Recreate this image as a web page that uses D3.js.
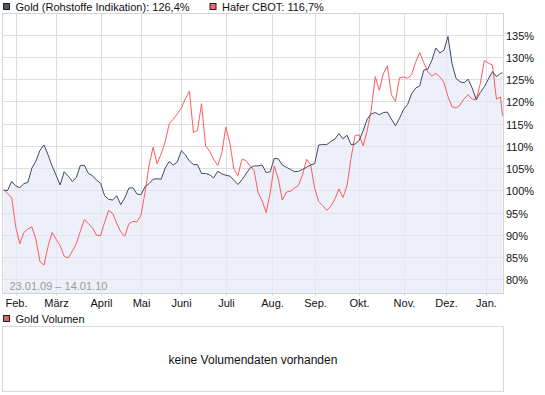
<!DOCTYPE html>
<html>
<head>
<meta charset="utf-8">
<script src="https://cdn.jsdelivr.net/npm/d3@7"></script>
<style>
  body { margin: 0; background: #fff; }
  svg { display: block; font-family: "Liberation Sans", Arial, sans-serif; }
</style>
</head>
<body>
<div id="chart"></div>
<script>
// trading calendar
const startDate = '2009-01-23';
const endDate = '2010-01-14';
const holidays = ['2009-04-10', '2009-04-13', '2009-05-01', '2009-12-24', '2009-12-25', '2009-12-31', '2010-01-01'];

// month ticks
const monthStarts = ['2009-02-01', '2009-03-01', '2009-04-01', '2009-05-01', '2009-06-01', '2009-07-01',
  '2009-08-01', '2009-09-01', '2009-10-01', '2009-11-01', '2009-12-01', '2010-01-01'];
const monthLabels = ['Feb.', 'März', 'April', 'Mai', 'Juni', 'Juli', 'Aug.', 'Sep.', 'Okt.', 'Nov.', 'Dez.', 'Jan.'];
const yTicks = [80, 85, 90, 95, 100, 105, 110, 115, 120, 125, 130, 135];

// values in %, every second trading day plus the last one
const goldValues = [100.0, 100.0, 102.0, 101.0, 100.6, 101.5, 101.8, 105.0, 106.6, 109.0, 110.2, 108.0,
  105.5, 103.4, 101.2, 104.2, 103.2, 102.0, 102.9, 105.6, 105.6, 103.8, 103.3, 102.3,
  101.6, 98.8, 98.0, 97.8, 98.8, 96.8, 98.3, 100.5, 100.6, 99.2, 99.0, 100.8,
  101.5, 102.5, 102.6, 102.5, 105.0, 106.5, 105.7, 106.4, 108.9, 108.0, 106.6, 105.8,
  105.8, 103.8, 103.8, 103.5, 102.8, 104.3, 103.7, 103.4, 103.2, 102.3, 101.3, 102.4,
  103.7, 105.0, 105.5, 105.5, 105.7, 104.0, 104.2, 107.2, 107.1, 105.7, 105.2, 104.7,
  104.2, 104.3, 104.7, 105.2, 105.7, 106.0, 110.2, 110.3, 110.3, 111.0, 111.5, 112.8,
  111.6, 112.4, 110.3, 110.4, 111.2, 113.4, 116.0, 117.2, 117.5, 117.0, 117.5, 117.6,
  116.0, 114.5, 116.2, 118.2, 119.3, 121.7, 123.0, 123.5, 127.0, 127.3, 129.2, 132.0,
  130.9, 131.5, 134.6, 128.5, 125.2, 124.4, 124.2, 125.0, 123.0, 120.4, 122.0, 123.3,
  125.0, 126.7, 125.6, 126.3, 126.4];
const haferValues = [100.2, 99.3, 98.3, 91.8, 88.0, 90.5, 91.3, 91.8, 89.0, 84.0, 83.2, 87.4,
  90.5, 89.0, 87.5, 85.2, 84.8, 86.3, 88.0, 90.8, 93.5, 92.5, 91.6, 89.9,
  89.8, 92.8, 95.5, 94.8, 92.6, 90.6, 89.7, 92.5, 93.0, 92.9, 94.4, 99.5,
  105.5, 109.7, 106.0, 108.2, 110.9, 115.0, 116.0, 117.2, 118.5, 120.6, 122.3, 113.0,
  113.5, 119.5, 110.0, 108.8, 107.0, 105.6, 108.3, 114.2, 110.7, 104.8, 103.3, 107.0,
  106.7, 105.5, 104.5, 99.5, 97.6, 95.0, 99.5, 105.5, 102.6, 97.8, 99.6, 99.8,
  100.5, 101.1, 103.5, 107.0, 105.8, 100.5, 97.5, 96.6, 95.5, 96.4, 98.0, 100.3,
  98.4, 101.0, 107.2, 112.3, 112.5, 110.0, 113.4, 118.0, 125.6, 122.5, 126.2, 128.0,
  121.5, 120.0, 125.3, 125.5, 125.2, 126.0, 128.8, 131.0, 128.7, 126.7, 125.7, 126.3,
  125.5, 124.3, 121.1, 118.8, 118.5, 119.2, 120.6, 121.5, 120.5, 120.4, 124.0, 129.2,
  128.6, 128.2, 120.5, 121.0, 116.7];

const W = 545, H = 395;
const plot = { left: 3, right: 503, top: 13, bottom: 293 };

const parse = d3.utcParse('%Y-%m-%d');
const fmt = d3.utcFormat('%Y-%m-%d');
const tradingDays = d3.utcDay.range(parse(startDate), d3.utcDay.offset(parse(endDate), 1))
  .filter(d => d.getUTCDay() !== 0 && d.getUTCDay() !== 6 && !holidays.includes(fmt(d)));
const dayIndex = date => d3.bisectLeft(tradingDays, date);

const sampleDays = tradingDays.filter((d, i) => i % 2 === 0 || i === tradingDays.length - 1);
const gold = sampleDays.map((d, i) => ({ date: d, value: goldValues[i] }));
const hafer = sampleDays.map((d, i) => ({ date: d, value: haferValues[i] }));

const x = d3.scaleLinear().domain([0, tradingDays.length - 1]).range([3.6, 502.5]);
const y = d3.scaleLinear().domain([80, 135]).range([279.3, 34.7]);

const svg = d3.select('#chart').append('svg').attr('width', W).attr('height', H);

// top legend
const legend = [
  { label: 'Gold (Rohstoffe Indikation): 126,4%', color: '#4b5673', x: 3 },
  { label: 'Hafer CBOT: 116,7%', color: '#ff6262', x: 209.5 }
];
legend.forEach(l => {
  svg.append('rect').attr('x', l.x + 0.5).attr('y', 3.5).attr('width', 6).attr('height', 6)
    .attr('fill', l.color).attr('stroke', '#222');
  svg.append('text').attr('x', l.x + 12.5).attr('y', 10.5).attr('font-size', '11px').attr('fill', '#111').text(l.label);
});

// plot background grid
const g = svg.append('g');
g.selectAll('line.hgrid').data(yTicks).enter().append('line')
  .attr('x1', plot.left).attr('x2', plot.right)
  .attr('y1', d => Math.round(y(d)) + 0.5).attr('y2', d => Math.round(y(d)) + 0.5)
  .attr('stroke', '#dcdcdc');

const monthX = monthStarts.map(m => Math.round(x(dayIndex(parse(m)))) + 0.5);
g.selectAll('line.vgrid').data(monthX).enter().append('line')
  .attr('x1', d => d).attr('x2', d => d)
  .attr('y1', plot.top).attr('y2', plot.bottom + 3)
  .attr('stroke', '#dcdcdc');

// gold area + lines
const area = d3.area()
  .x(d => x(dayIndex(d.date)))
  .y0(plot.bottom)
  .y1(d => y(d.value));
g.append('path').datum(gold).attr('d', area).attr('fill', '#e6eaf7').attr('fill-opacity', 0.7);

// redraw grid faintly over the fill
g.selectAll('line.hgrid2').data(yTicks).enter().append('line')
  .attr('x1', plot.left).attr('x2', plot.right)
  .attr('y1', d => Math.round(y(d)) + 0.5).attr('y2', d => Math.round(y(d)) + 0.5)
  .attr('stroke', '#dde0ea').attr('stroke-opacity', 0.6);

const line = d3.line()
  .x(d => x(dayIndex(d.date)))
  .y(d => y(d.value));
g.append('path').datum(hafer).attr('d', line).attr('fill', 'none').attr('stroke', '#ff5b5b').attr('stroke-width', 1);
g.append('path').datum(gold).attr('d', line).attr('fill', 'none').attr('stroke', '#3e4965').attr('stroke-width', 1);

// plot frame
g.append('rect').attr('x', plot.left - 0.5).attr('y', plot.top + 0.5)
  .attr('width', plot.right - plot.left + 1).attr('height', plot.bottom - plot.top)
  .attr('fill', 'none').attr('stroke', '#d4d4d4');

// date range
g.append('text').attr('x', 9.5).attr('y', 289.5).attr('font-size', '11px').attr('fill', '#9a9a9a')
  .text('23.01.09 – 14.01.10');

// y axis labels
svg.selectAll('text.ylab').data(yTicks).enter().append('text')
  .attr('x', 506).attr('y', d => y(d) + 5)
  .attr('font-size', '11px').attr('fill', '#111')
  .text(d => d + '%');

// x axis labels
svg.selectAll('text.xlab').data(monthLabels).enter().append('text')
  .attr('x', (d, i) => monthX[i]).attr('y', 306.5)
  .attr('text-anchor', 'middle').attr('font-size', '11px').attr('fill', '#111')
  .text(d => d);

// volume panel
svg.append('rect').attr('x', 3.5).attr('y', 315.5).attr('width', 6).attr('height', 6)
  .attr('fill', '#d96464').attr('stroke', '#222');
svg.append('text').attr('x', 15.5).attr('y', 323).attr('font-size', '11px').attr('fill', '#111').text('Gold Volumen');
svg.append('rect').attr('x', 2.5).attr('y', 326.5).attr('width', 501).attr('height', 65)
  .attr('fill', 'none').attr('stroke', '#d9d9d9');
svg.append('text').attr('x', 253).attr('y', 364).attr('text-anchor', 'middle')
  .attr('font-size', '12px').attr('fill', '#111').text('keine Volumendaten vorhanden');
</script>
</body>
</html>
